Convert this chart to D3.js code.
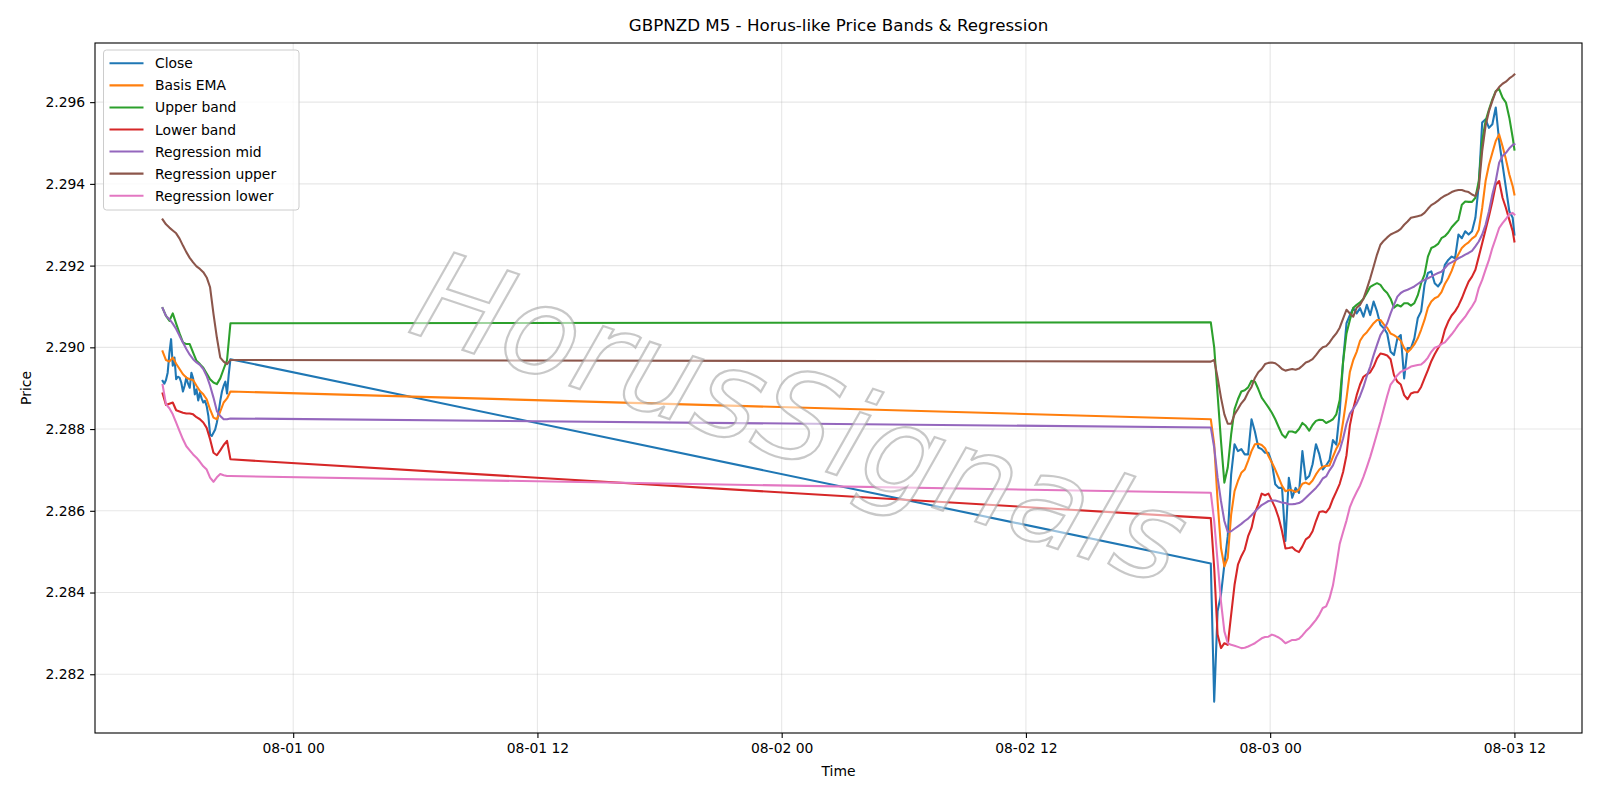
<!DOCTYPE html>
<html><head><meta charset="utf-8">
<script src="https://cdn.jsdelivr.net/npm/d3@7"></script>
<style>body{margin:0;background:#fff} svg{display:block} text{font-family:"DejaVu Sans",sans-serif}</style>
</head><body><svg id="c" width="1600" height="800"></svg>
<script>
// ---- time stamps (M5 data, sampled) ----
const MIN = 60000;
const seg1Start = Date.UTC(2025, 6, 31, 17, 35);
const seg2Start = Date.UTC(2025, 7, 2, 21, 5);
const seg2End = Date.UTC(2025, 7, 3, 12, 0);
const bandTimesA = d3.range(21).map(i => new Date(seg1Start + i * 10 * MIN));
const closeTimesA = d3.range(41).map(i => new Date(seg1Start + i * 5 * MIN));
const timesB = d3.range(90).map(i => new Date(seg2Start + i * 10 * MIN)).concat([new Date(seg2End)]);

// ---- tick labels ----
const yTicks = [2.282, 2.284, 2.286, 2.288, 2.290, 2.292, 2.294, 2.296];

// ---- series values ----
const closeA = [2.28918,2.28911,2.28920,2.28938,2.28985,2.29020,2.28955,2.28975,2.28922,2.28928,2.28926,2.28914,2.28892,2.28906,2.28926,2.28911,2.28901,2.28938,2.28924,2.28885,2.28897,2.28870,2.28889,2.28875,2.28865,2.28869,2.28856,2.28832,2.28787,2.28783,2.28791,2.28799,2.28816,2.28840,2.28869,2.28892,2.28906,2.28916,2.28887,2.28934,2.28971];
const closeB = [2.28471,2.28133,2.28354,2.28395,2.28468,2.28538,2.28689,2.28763,2.28746,2.28751,
2.28738,2.28738,2.28824,2.28794,2.28755,2.28751,2.28742,2.28742,2.28718,2.28665,
2.28656,2.28656,2.28526,2.28681,2.28632,2.28656,2.28644,2.28746,2.28677,2.28685,
2.28714,2.28763,2.28738,2.28701,2.28711,2.28724,2.28773,2.28762,2.28842,2.28965,
2.29059,2.29079,2.29096,2.29083,2.29096,2.29075,2.29104,2.29079,2.29112,2.29088,
2.29055,2.29047,2.29034,2.28989,2.28981,2.29022,2.29030,2.28924,2.28998,2.28998,
2.29022,2.29071,2.29088,2.29153,2.29182,2.29186,2.29157,2.29149,2.29161,2.29202,
2.29214,2.29222,2.29218,2.29276,2.29267,2.29284,2.29276,2.29284,2.29317,2.29398,
2.29550,2.29558,2.29537,2.29546,2.29587,2.29505,2.29447,2.29390,2.29333,2.29317,
2.29276];

const basisA = [2.28990,2.28969,2.28965,2.28975,2.28960,2.28947,2.28934,2.28926,2.28922,2.28920,2.28906,2.28893,2.28885,2.28873,2.28848,2.28828,2.28824,2.28843,2.28865,2.28875,2.28892];
const basisB = [2.28824,2.28763,2.28624,2.28509,2.28464,2.28485,2.28591,2.28648,2.28673,2.28693,
2.28701,2.28722,2.28746,2.28763,2.28764,2.28761,2.28753,2.28734,2.28718,2.28701,
2.28681,2.28661,2.28648,2.28651,2.28650,2.28646,2.28652,2.28666,2.28669,2.28665,
2.28674,2.28689,2.28701,2.28708,2.28710,2.28711,2.28732,2.28752,2.28767,2.28818,
2.28875,2.28940,2.28969,2.28989,2.29016,2.29029,2.29037,2.29048,2.29059,2.29067,
2.29067,2.29056,2.29048,2.29034,2.29030,2.29024,2.29016,2.28998,2.28988,2.28996,
2.29007,2.29022,2.29043,2.29067,2.29097,2.29112,2.29120,2.29124,2.29135,2.29155,
2.29169,2.29187,2.29210,2.29228,2.29243,2.29251,2.29257,2.29266,2.29272,2.29288,
2.29341,2.29407,2.29447,2.29476,2.29505,2.29521,2.29492,2.29460,2.29423,2.29394,
2.29374];

const upperA = [2.29096,2.29077,2.29065,2.29083,2.29058,2.29034,2.29012,2.29008,2.29008,2.28987,2.28967,2.28959,2.28950,2.28936,2.28922,2.28914,2.28910,2.28924,2.28947,2.28969,2.29059];
const upperB = [2.29061,2.29000,2.28885,2.28771,2.28669,2.28706,2.28787,2.28849,2.28873,2.28892,
2.28895,2.28902,2.28918,2.28916,2.28898,2.28877,2.28865,2.28853,2.28840,2.28824,
2.28805,2.28787,2.28779,2.28794,2.28794,2.28791,2.28800,2.28815,2.28808,2.28796,
2.28810,2.28820,2.28823,2.28822,2.28815,2.28819,2.28824,2.28836,2.28871,2.28965,
2.29034,2.29067,2.29097,2.29104,2.29110,2.29119,2.29133,2.29148,2.29153,2.29157,
2.29153,2.29141,2.29133,2.29119,2.29097,2.29104,2.29100,2.29108,2.29108,2.29102,
2.29108,2.29127,2.29157,2.29178,2.29222,2.29243,2.29247,2.29253,2.29267,2.29272,
2.29281,2.29294,2.29303,2.29312,2.29349,2.29357,2.29356,2.29356,2.29366,2.29407,
2.29505,2.29554,2.29582,2.29607,2.29627,2.29632,2.29611,2.29599,2.29562,2.29513,
2.29484];

const lowerA = [2.28887,2.28859,2.28862,2.28865,2.28846,2.28843,2.28840,2.28838,2.28838,2.28836,2.28829,2.28824,2.28816,2.28803,2.28775,2.28742,2.28736,2.28748,2.28761,2.28771,2.28726];
const lowerB = [2.28582,2.28460,2.28297,2.28264,2.28276,2.28272,2.28346,2.28419,2.28468,2.28489,
2.28505,2.28538,2.28558,2.28595,2.28616,2.28642,2.28638,2.28642,2.28625,2.28607,
2.28583,2.28550,2.28508,2.28509,2.28511,2.28503,2.28499,2.28513,2.28530,2.28536,
2.28550,2.28575,2.28597,2.28599,2.28596,2.28607,2.28629,2.28647,2.28666,2.28695,
2.28736,2.28809,2.28850,2.28883,2.28909,2.28928,2.28934,2.28939,2.28953,2.28973,
2.28985,2.28983,2.28980,2.28971,2.28932,2.28916,2.28909,2.28883,2.28873,2.28887,
2.28890,2.28890,2.28903,2.28924,2.28944,2.28966,2.28983,2.28998,2.29012,2.29043,
2.29063,2.29078,2.29088,2.29102,2.29120,2.29141,2.29161,2.29173,2.29190,2.29222,
2.29255,2.29288,2.29321,2.29357,2.29398,2.29407,2.29366,2.29341,2.29312,2.29284,
2.29259];

const regMidA = [2.29096,2.29077,2.29069,2.29058,2.29045,2.29028,2.29012,2.28996,2.28982,2.28971,2.28963,2.28957,2.28947,2.28930,2.28906,2.28877,2.28844,2.28832,2.28824,2.28824,2.28826];
const regMidB = [2.28804,2.28755,2.28681,2.28624,2.28575,2.28548,2.28550,2.28556,2.28562,2.28568,
2.28575,2.28581,2.28589,2.28598,2.28606,2.28614,2.28619,2.28624,2.28625,2.28625,
2.28623,2.28620,2.28619,2.28616,2.28616,2.28617,2.28619,2.28624,2.28632,2.28640,
2.28648,2.28656,2.28666,2.28679,2.28684,2.28699,2.28711,2.28732,2.28748,2.28777,
2.28813,2.28838,2.28850,2.28863,2.28881,2.28903,2.28930,2.28953,2.28981,2.29006,
2.29030,2.29043,2.29059,2.29083,2.29104,2.29124,2.29133,2.29138,2.29141,2.29145,
2.29149,2.29155,2.29161,2.29165,2.29169,2.29173,2.29178,2.29182,2.29185,2.29194,
2.29204,2.29208,2.29213,2.29218,2.29222,2.29227,2.29231,2.29236,2.29247,2.29259,
2.29276,2.29300,2.29333,2.29374,2.29407,2.29452,2.29468,2.29476,2.29487,2.29495,
2.29497];

const regUpA = [2.29313,2.29301,2.29293,2.29286,2.29279,2.29266,2.29249,2.29233,2.29219,2.29208,2.29198,2.29192,2.29184,2.29171,2.29147,2.29082,2.29024,2.28975,2.28965,2.28959,2.28969];
const regUpB = [2.28965,2.28969,2.28926,2.28877,2.28836,2.28813,2.28813,2.28836,2.28849,2.28863,
2.28873,2.28890,2.28903,2.28925,2.28939,2.28947,2.28959,2.28962,2.28963,2.28961,
2.28955,2.28947,2.28943,2.28945,2.28947,2.28945,2.28948,2.28955,2.28963,2.28966,
2.28971,2.28981,2.28992,2.29000,2.29003,2.29012,2.29024,2.29034,2.29048,2.29070,
2.29092,2.29083,2.29075,2.29097,2.29104,2.29119,2.29143,2.29169,2.29198,2.29227,
2.29251,2.29261,2.29269,2.29276,2.29280,2.29284,2.29290,2.29300,2.29308,2.29317,
2.29319,2.29321,2.29323,2.29329,2.29339,2.29348,2.29353,2.29359,2.29366,2.29371,
2.29375,2.29380,2.29383,2.29385,2.29385,2.29382,2.29380,2.29374,2.29370,2.29390,
2.29480,2.29542,2.29578,2.29603,2.29626,2.29637,2.29645,2.29650,2.29658,2.29664,
2.29668];

const regLoA = [2.28908,2.28861,2.28851,2.28836,2.28816,2.28795,2.28775,2.28758,2.28748,2.28738,2.28730,2.28720,2.28709,2.28701,2.28681,2.28671,2.28682,2.28690,2.28687,2.28685,2.28685];
const regLoB = [2.28644,2.28575,2.28476,2.28378,2.28305,2.28276,2.28272,2.28270,2.28267,2.28264,
2.28265,2.28268,2.28272,2.28276,2.28282,2.28288,2.28291,2.28292,2.28297,2.28294,
2.28290,2.28284,2.28276,2.28280,2.28284,2.28284,2.28287,2.28295,2.28305,2.28313,
2.28323,2.28333,2.28346,2.28362,2.28366,2.28386,2.28417,2.28466,2.28519,2.28548,
2.28576,2.28609,2.28629,2.28646,2.28662,2.28683,2.28707,2.28732,2.28760,2.28789,
2.28818,2.28850,2.28881,2.28909,2.28920,2.28932,2.28940,2.28944,2.28948,2.28953,
2.28955,2.28957,2.28958,2.28965,2.28975,2.28989,2.28999,2.29002,2.29008,2.29012,
2.29022,2.29032,2.29043,2.29055,2.29065,2.29075,2.29088,2.29100,2.29114,2.29145,
2.29165,2.29190,2.29214,2.29243,2.29267,2.29292,2.29304,2.29314,2.29326,2.29329,
2.29325];

const seriesNames = ["Close", "Basis EMA", "Upper band", "Lower band", "Regression mid", "Regression upper", "Regression lower"];
const seriesColors = ["#1f77b4", "#ff7f0e", "#2ca02c", "#d62728", "#9467bd", "#8c564b", "#e377c2"];

const bandTimes = bandTimesA.concat(timesB);
const closeTimes = closeTimesA.concat(timesB);
const seriesData = [
  [closeTimes, closeA.concat(closeB)],
  [bandTimes, basisA.concat(basisB)],
  [bandTimes, upperA.concat(upperB)],
  [bandTimes, lowerA.concat(lowerB)],
  [bandTimes, regMidA.concat(regMidB)],
  [bandTimes, regUpA.concat(regUpB)],
  [bandTimes, regLoA.concat(regLoB)]
].map(([ts, vs], i) => ({
  name: seriesNames[i], color: seriesColors[i],
  pts: ts.map((t, j) => ({ t, v: vs[j] }))
}));

// ---- layout ----
const L = 95, R = 1582, T = 43, B = 733;
const svg = d3.select("#c");

const tMin = seg1Start, tMax = seg2End, tPad = 0.05 * (tMax - tMin);
const x = d3.scaleUtc().domain([new Date(tMin - tPad), new Date(tMax + tPad)]).range([L, R]);
const allV = seriesData.flatMap(s => s.pts.map(p => p.v));
const vMin = d3.min(allV), vMax = d3.max(allV), vPad = 0.05 * (vMax - vMin);
const y = d3.scaleLinear().domain([vMin - vPad, vMax + vPad]).range([B, T]);

// grid
const xTicks = x.ticks(d3.utcHour.every(12));
const grid = svg.append("g");
grid.selectAll("line.gx").data(xTicks).join("line")
  .attr("x1", d => x(d)).attr("x2", d => x(d)).attr("y1", T).attr("y2", B)
  .attr("stroke", "#b0b0b0").attr("stroke-opacity", 0.3).attr("stroke-width", 1.1);
grid.selectAll("line.gy").data(yTicks).join("line")
  .attr("y1", d => y(d)).attr("y2", d => y(d)).attr("x1", L).attr("x2", R)
  .attr("stroke", "#b0b0b0").attr("stroke-opacity", 0.3).attr("stroke-width", 1.1);

// clip
svg.append("clipPath").attr("id", "clip").append("rect")
  .attr("x", L).attr("y", T).attr("width", R - L).attr("height", B - T);

const line = d3.line().x(d => x(d.t)).y(d => y(d.v));
const lines = svg.append("g").attr("clip-path", "url(#clip)");
seriesData.forEach(s => {
  lines.append("path").attr("d", line(s.pts)).attr("fill", "none")
    .attr("stroke", s.color).attr("stroke-width", 2.08)
    .attr("stroke-linejoin", "round").attr("stroke-linecap", "square");
});

// watermark
svg.append("text")
  .attr("transform", "translate(800,418) rotate(18.5)")
  .attr("text-anchor", "middle").attr("dominant-baseline", "central")
  .style("font-family", "'DejaVu Sans'").style("font-style", "oblique")
  .attr("font-size", 123)
  .attr("fill", "#ffffff").attr("fill-opacity", 0.55)
  .attr("stroke", "#9a9a9a").attr("stroke-opacity", 0.55).attr("stroke-width", 2.2)
  .text("HorusSignals");

// axes
const fs = 13.9;
const xAxis = svg.append("g").attr("transform", `translate(0,${B})`)
  .call(d3.axisBottom(x).tickValues(xTicks).tickFormat(d3.utcFormat("%m-%d %H")).tickSize(4.9).tickPadding(5.5));
const yAxis = svg.append("g").attr("transform", `translate(${L},0)`)
  .call(d3.axisLeft(y).tickValues(yTicks).tickFormat(d3.format(".3f")).tickSize(4.9).tickPadding(4.9));
[xAxis, yAxis].forEach(a => {
  a.select(".domain").remove();
  a.selectAll(".tick line").attr("stroke", "#000").attr("stroke-width", 1.1);
  a.selectAll(".tick text").attr("fill", "#000").style("font-family", "'DejaVu Sans'").attr("font-size", fs);
});

// spines
svg.append("rect").attr("x", L).attr("y", T).attr("width", R - L).attr("height", B - T)
  .attr("fill", "none").attr("stroke", "#000").attr("stroke-width", 1.1);

// labels
svg.append("text").attr("x", (L + R) / 2).attr("y", 31).attr("text-anchor", "middle")
  .attr("font-size", 16.7).attr("fill", "#000").text("GBPNZD M5 - Horus-like Price Bands & Regression");
svg.append("text").attr("x", (L + R) / 2).attr("y", 775.5).attr("text-anchor", "middle")
  .attr("font-size", fs).attr("fill", "#000").text("Time");
svg.append("text").attr("transform", `translate(30.5,${(T + B) / 2}) rotate(-90)`).attr("text-anchor", "middle")
  .attr("font-size", fs).attr("fill", "#000").text("Price");

// legend
const lg = svg.append("g");
lg.append("rect").attr("x", 103.5).attr("y", 50).attr("width", 195.5).attr("height", 160)
  .attr("rx", 3).attr("fill", "#fff").attr("fill-opacity", 0.8).attr("stroke", "#cccccc").attr("stroke-width", 1);
seriesData.forEach((s, i) => {
  const cy = 63.3 + i * 22.07;
  lg.append("line").attr("x1", 109.5).attr("x2", 143.5).attr("y1", cy).attr("y2", cy)
    .attr("stroke", s.color).attr("stroke-width", 2.08);
  lg.append("text").attr("x", 155).attr("y", cy + 5).attr("font-size", fs).attr("fill", "#000").text(s.name);
});
</script></body></html>
